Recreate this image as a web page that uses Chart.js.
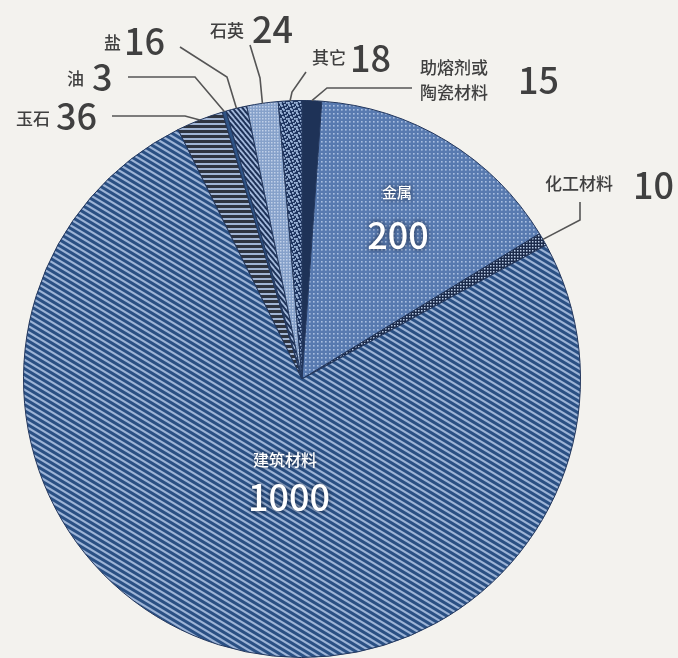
<!DOCTYPE html>
<html lang="zh">
<head>
  <meta charset="UTF-8">
  <title>材料用途</title>
  <script src="https://cdn.jsdelivr.net/npm/chart.js"></script>
  <style>
    html, body { margin: 0; padding: 0; background: #f3f2ee; }
    #chart { display: block; }
  </style>
</head>
<body>
  <canvas id="chart" width="678" height="658"></canvas>

  <script>
    // data
    const labels = ['助熔剂或\n陶瓷材料', '金属', '化工材料', '建筑材料', '玉石', '油', '盐', '石英', '其它'];
    const values = [15, 200, 10, 1000, 36, 3, 16, 24, 18];

    const canvas = document.getElementById('chart');
    const ctx = canvas.getContext('2d');
    const FONT = '"Noto Sans CJK SC", "Noto Sans", sans-serif';

    // small helper to build a repeating texture
    function tile(w, h, draw) {
      const c = document.createElement('canvas');
      c.width = w; c.height = h;
      const g = c.getContext('2d');
      draw(g, w, h);
      return ctx.createPattern(c, 'repeat');
    }

    function stripes(w, h, bg, fg, lw) {
      return tile(w, h, (g) => {
        g.fillStyle = bg;
        g.fillRect(0, 0, w, h);
        g.strokeStyle = fg;
        g.lineWidth = lw;
        for (let k = -2; k <= 2; k++) {
          g.beginPath();
          g.moveTo(-w, -h + k * h);
          g.lineTo(2 * w, 2 * h + k * h);
          g.stroke();
        }
      });
    }

    function dots(w, h, bg, fg, pts, s) {
      return tile(w, h, (g) => {
        g.fillStyle = bg;
        g.fillRect(0, 0, w, h);
        g.fillStyle = fg;
        pts.forEach(p => g.fillRect(p[0], p[1], s, s));
      });
    }

    function hlines(h, dark, bg, fg) {
      return tile(4, h, (g) => {
        g.fillStyle = bg;
        g.fillRect(0, 0, 4, h);
        g.fillStyle = fg;
        g.fillRect(0, 0, 4, dark);
      });
    }

    const fills = [
      '#1e3257',                                                     // 助熔剂
      dots(4, 4, '#587ab0', '#a9bfe0', [[1, 1]], 1.6),               // 金属
      dots(3, 3, '#1b2a4a', '#b9cbe6', [[1, 1]], 1.5),               // 化工材料
      stripes(10, 6, '#9cb3d6', '#2a5084', 3),                       // 建筑材料
      hlines(5, 3, '#a0b4d4', '#2e3440'),                            // 玉石
      '#2e5385',                                                     // 油
      stripes(5, 6, '#1d3157', '#a3b9dc', 1.8),                      // 盐
      dots(3, 3, '#86a1ca', '#c0d0e8', [[1, 1]], 1.5),               // 石英
      dots(8, 8, '#1f3560', '#a0b9dc', [[0, 0], [1, 1], [4, 0], [5, 3], [2, 4], [3, 5], [6, 6], [0, 6], [7, 2]], 1.8) // 其它
    ];

    // where the labels go (pixel layout, not data)
    const placement = [
      { lines: [[420, 68], [420, 93]], num: [518, 80], path: [[327, 88], [412, 88]] },
      { inside: true, name: [397, 192, 15], num: [398, 235, 36] },
      { lines: [[545, 184]], num: [633, 185], path: [[580, 220], [580, 202]] },
      { inside: true, name: [285, 460, 16], num: [289, 497, 36] },
      { lines: [[16, 119]], num: [56, 116], path: [[185, 116], [112, 116]] },
      { lines: [[67, 79]], num: [92, 77], path: [[195, 77], [128, 77]] },
      { lines: [[104, 43]], num: [124, 41], path: [[227, 77], [180, 47]] },
      { lines: [[210, 31]], num: [252, 29], path: [[260, 78], [250, 45]] },
      { lines: [[312, 58]], num: [350, 58], path: [[292, 92], [306, 72]] }
    ];

    const labelPlugin = {
      id: 'pieLabels',
      afterDraw(chart) {
        const g = chart.ctx;
        const arcs = chart.getDatasetMeta(0).data;
        g.save();
        arcs.forEach((arc, i) => {
          const p = placement[i];
          const name = chart.data.labels[i].split('\n');
          const val = String(chart.data.datasets[0].data[i]);
          if (p.inside) {
            g.save();
            g.fillStyle = '#ffffff';
            g.textAlign = 'center';
            g.textBaseline = 'middle';
            g.shadowColor = 'rgba(10,20,40,0.85)';
            g.shadowBlur = 5;
            g.font = `500 ${p.name[2]}px ${FONT}`;
            g.fillText(name[0], p.name[0], p.name[1]);
            g.font = `500 ${p.num[2]}px ${FONT}`;
            g.fillText(val, p.num[0], p.num[1]);
            g.restore();
            return;
          }
          // leader line from the middle of the slice edge
          const mid = (arc.startAngle + arc.endAngle) / 2;
          const r = arc.outerRadius;
          g.strokeStyle = '#555555';
          g.lineWidth = 1.6;
          g.beginPath();
          g.moveTo(arc.x + Math.cos(mid) * r, arc.y + Math.sin(mid) * r);
          p.path.forEach(pt => g.lineTo(pt[0], pt[1]));
          g.stroke();

          g.fillStyle = '#404040';
          g.textAlign = 'left';
          g.textBaseline = 'middle';
          g.font = `500 17px ${FONT}`;
          name.forEach((t, j) => g.fillText(t, p.lines[j][0], p.lines[j][1]));
          g.font = `500 36px ${FONT}`;
          g.fillText(val, p.num[0], p.num[1]);
        });
        g.restore();
      }
    };

    new Chart(canvas, {
      type: 'pie',
      data: {
        labels: labels,
        datasets: [{
          data: values,
          backgroundColor: fills,
          borderColor: '#22365c',
          borderWidth: 1
        }]
      },
      options: {
        responsive: false,
        animation: false,
        layout: { padding: { left: 23, right: 97, top: 100, bottom: 0 } },
        plugins: {
          legend: { display: false },
          tooltip: { enabled: false }
        }
      },
      plugins: [labelPlugin]
    });
  </script>
</body>
</html>
